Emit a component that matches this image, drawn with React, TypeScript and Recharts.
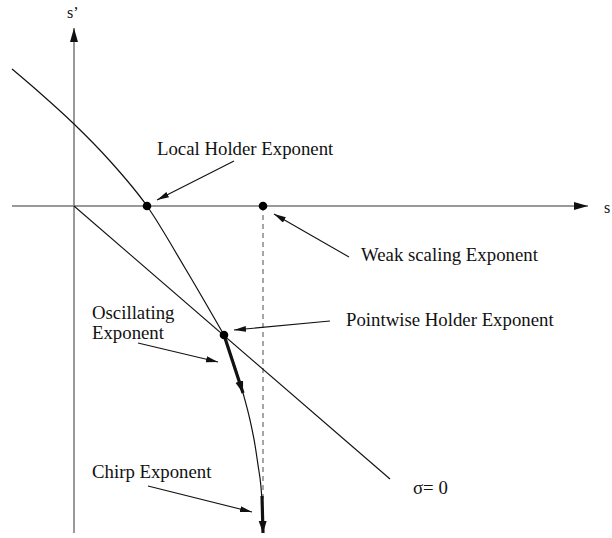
import {
  ComposedChart,
  Line,
  ReferenceDot,
  ReferenceLine,
  Scatter,
  XAxis,
  YAxis,
} from "recharts";

// diagram units: origin where the s and s' axes cross
const holderUpper = [
  { x: -0.62, y: 1.37 },
  { x: -0.34, y: 1.13 },
  { x: 0, y: 0.82 },
  { x: 0.36, y: 0.45 },
  { x: 0.73, y: 0 },
  { x: 1.11, y: -0.62 },
  { x: 1.5, y: -1.29 },
];
const holderLower = [
  { x: 1.5, y: -1.29 },
  { x: 1.69, y: -1.87 },
  { x: 1.76, y: -2.14 },
  { x: 1.81, y: -2.39 },
  { x: 1.84, y: -2.59 },
  { x: 1.87, y: -2.81 },
  { x: 1.88, y: -2.94 },
];
const sigmaZero = [
  { x: 0, y: 0 },
  { x: 3.16, y: -2.73 },
];
const exponents = [
  { x: 0.73, y: 0 }, // local holder
  { x: 1.89, y: 0 }, // weak scaling
  { x: 1.5, y: -1.29 }, // pointwise holder
];
const thickArrows = [
  [{ x: 1.5, y: -1.29 }, { x: 1.69, y: -1.87 }],
  [{ x: 1.88, y: -2.9 }, { x: 1.89, y: -3.27 }],
];
const sAxis = [{ x: -0.62, y: 0 }, { x: 5.14, y: 0 }];
const sPrimeAxis = [{ x: 0, y: -3.27 }, { x: 0, y: 1.78 }];
const weakDrop = [{ x: 1.89, y: 0 }, { x: 1.89, y: -2.94 }];

const labels = [
  { lines: ["Local Holder Exponent"], x: 0.83, y: 0.51, from: { x: 1.6, y: 0.45 }, to: { x: 0.83, y: 0.06 } },
  { lines: ["Weak scaling Exponent"], x: 2.87, y: -0.55, from: { x: 2.75, y: -0.51 }, to: { x: 2.0, y: -0.08 } },
  { lines: ["Pointwise Holder Exponent"], x: 2.72, y: -1.2, from: { x: 2.56, y: -1.15 }, to: { x: 1.6, y: -1.24 } },
  { lines: ["Oscillating", "Exponent"], x: 0.18, y: -1.13, from: { x: 0.64, y: -1.37 }, to: { x: 1.44, y: -1.56 } },
  { lines: ["Chirp Exponent"], x: 0.18, y: -2.72, from: { x: 0.74, y: -2.8 }, to: { x: 1.78, y: -3.06 } },
];
const plainLabels = [
  { text: "σ= 0", x: 3.39, y: -2.88, size: 18.8 },
  { text: "s’", x: -0.07, y: 1.88, size: 16 },
  { text: "s", x: 5.3, y: -0.07, size: 16 },
];

const FONT = '"Liberation Serif", "DejaVu Serif", serif';

const arrowShape = (marker: string, stroke: string, width: number) => (p: any) => (
  <line
    x1={p.x1}
    y1={p.y1}
    x2={p.x2}
    y2={p.y2}
    stroke={stroke}
    strokeWidth={width}
    markerEnd={`url(#${marker})`}
  />
);

export default function App() {
  return (
    <div style={{ position: "absolute", left: 0, top: 0, background: "#fff" }}>
      <svg width={0} height={0} style={{ position: "absolute" }}>
        <defs>
          <marker id="axisHead" markerUnits="userSpaceOnUse" markerWidth={15} markerHeight={9} refX={14} refY={4} orient="auto">
            <path d="M0,0 L14,4 L0,8 z" fill="#111" />
          </marker>
          <marker id="noteHead" markerUnits="userSpaceOnUse" markerWidth={13} markerHeight={7} refX={12} refY={3} orient="auto">
            <path d="M0,0 L12,3 L0,6 z" fill="#111" />
          </marker>
          <marker id="thickHead" markerUnits="userSpaceOnUse" markerWidth={13} markerHeight={9} refX={12} refY={4} orient="auto">
            <path d="M0,0 L12,4 L0,8 z" fill="#111" />
          </marker>
        </defs>
      </svg>
      <ComposedChart width={612} height={538} margin={{ top: 0, right: 0, bottom: 0, left: 0 }}>
        <XAxis type="number" dataKey="x" domain={[-0.74, 5.38]} allowDataOverflow hide />
        <YAxis type="number" dataKey="y" domain={[-3.32, 2.06]} allowDataOverflow hide />

        <ReferenceLine segment={sAxis} shape={arrowShape("axisHead", "#777", 1.5)} ifOverflow="visible" />
        <ReferenceLine segment={sPrimeAxis} shape={arrowShape("axisHead", "#777", 1.5)} ifOverflow="visible" />
        <ReferenceLine segment={weakDrop} stroke="#777" strokeWidth={1.3} strokeDasharray="5 4" ifOverflow="visible" />

        <Line data={sigmaZero} dataKey="y" type="linear" stroke="#111" strokeWidth={1.1} dot={false} activeDot={false} isAnimationActive={false} />
        <Line data={holderUpper} dataKey="y" type="monotone" stroke="#111" strokeWidth={1.2} dot={false} activeDot={false} isAnimationActive={false} />
        <Line data={holderLower} dataKey="y" type="monotone" stroke="#111" strokeWidth={1.2} dot={false} activeDot={false} isAnimationActive={false} />

        {thickArrows.map((seg, i) => (
          <ReferenceLine key={`t${i}`} segment={seg} shape={arrowShape("thickHead", "#111", 3.2)} ifOverflow="visible" />
        ))}

        {labels.map((l) => (
          <ReferenceLine key={`a${l.lines[0]}`} segment={[l.from, l.to]} shape={arrowShape("noteHead", "#111", 1.1)} ifOverflow="visible" />
        ))}

        <Scatter data={exponents} fill="#000" isAnimationActive={false} shape={(p: any) => <circle cx={p.cx} cy={p.cy} r={4.3} fill="#000" />} />

        {labels.map((l) => (
          <ReferenceDot
            key={`l${l.lines[0]}`}
            x={l.x}
            y={l.y}
            ifOverflow="visible"
            shape={(p: any) => (
              <text x={p.cx} y={p.cy} fontFamily={FONT} fontSize={18.8} fill="#111">
                {l.lines.map((t, i) => (
                  <tspan key={t} x={p.cx} dy={i === 0 ? 0 : 20}>
                    {t}
                  </tspan>
                ))}
              </text>
            )}
          />
        ))}
        {plainLabels.map((l) => (
          <ReferenceDot
            key={`p${l.text}`}
            x={l.x}
            y={l.y}
            ifOverflow="visible"
            shape={(p: any) => (
              <text x={p.cx} y={p.cy} fontFamily={FONT} fontSize={l.size} fill="#111">
                {l.text}
              </text>
            )}
          />
        ))}
      </ComposedChart>
    </div>
  );
}
